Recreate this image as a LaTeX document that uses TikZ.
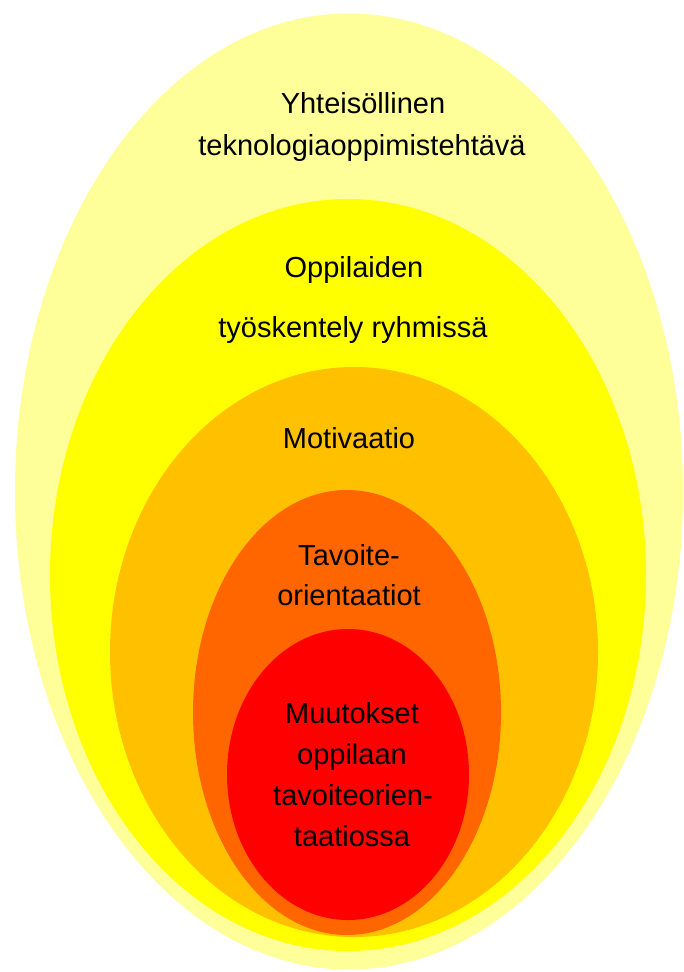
\documentclass[tikz,border=0pt]{standalone}
\usepackage{fontspec}
\setmainfont{Liberation Sans}
\definecolor{cOuter}{HTML}{FFFF99}
\definecolor{cYellow}{HTML}{FFFF00}
\definecolor{cOrange}{HTML}{FFC000}
\definecolor{cDark}{HTML}{FF6600}
\definecolor{cRed}{HTML}{FF0000}
\tikzset{
  lbl/.style={anchor=base, inner sep=0pt, font=\fontsize{29}{34}\selectfont, text=black}
}
\begin{document}
\begin{tikzpicture}[x=1pt,y=-1pt]
\useasboundingbox (0,0) rectangle (683,972);
\fill[cOuter] (349,491.5) ellipse [x radius=334, y radius=478];
\fill[cYellow] (348,575) ellipse [x radius=298, y radius=376];
\fill[cOrange] (354,652) ellipse [x radius=244, y radius=285];
\fill[cDark] (347,712.5) ellipse [x radius=154, y radius=222.5];
\fill[cRed] (348,774.5) ellipse [x radius=121, y radius=145.5];
\node[lbl] (t1) at (363,113) {Yhteisöllinen};
\node[lbl] (t2) at (362,155) {teknologiaoppimistehtävä};
\node[lbl] (t3) at (354,277) {Oppilaiden};
\node[lbl] (t4) at (353,337) {työskentely ryhmissä};
\node[lbl] (t5) at (349,448) {Motivaatio};
\node[lbl] (t6) at (349,565) {Tavoite-};
\node[lbl] (t7) at (349,605) {orientaatiot};
\node[lbl] (t8) at (352,723) {Muutokset};
\node[lbl] (t9) at (352,764) {oppilaan};
\node[lbl] (t10) at (353,805) {tavoiteorien-};
\node[lbl] (t11) at (352,846) {taatiossa};
\end{tikzpicture}
\end{document}
